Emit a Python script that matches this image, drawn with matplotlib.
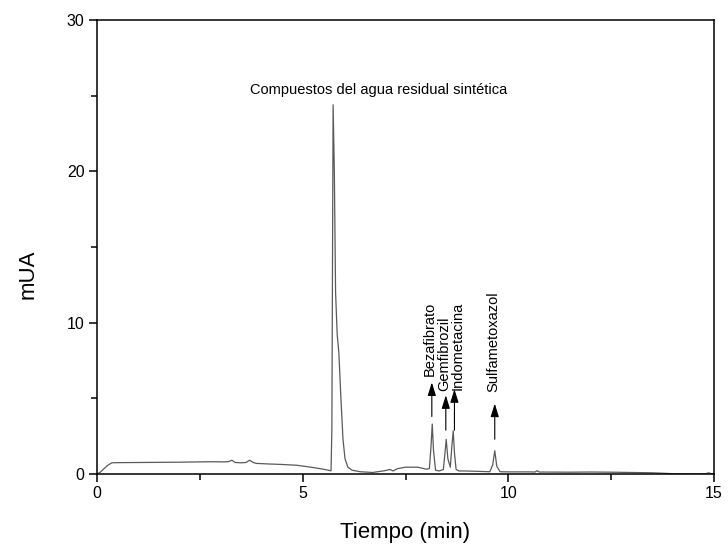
import matplotlib
matplotlib.use("Agg")
import matplotlib.pyplot as plt
from matplotlib.ticker import MultipleLocator

plt.rcParams['font.family'] = ['Liberation Sans', 'DejaVu Sans']

# Chromatogram trace: retention time (min) and detector signal (mUA)
tiempo = [0.00, 0.08, 0.15, 0.25, 0.36, 0.50, 1.00, 1.50, 2.00, 2.50, 2.80,
          3.10, 3.20, 3.28, 3.36, 3.50, 3.62, 3.71, 3.80, 3.87, 4.20, 4.50,
          4.85, 5.20, 5.50, 5.69, 5.71, 5.74, 5.77, 5.80, 5.84, 5.88, 5.93,
          5.98, 6.03, 6.10, 6.20, 6.40, 6.70, 7.00, 7.12, 7.20, 7.30, 7.50,
          7.80, 8.00, 8.08, 8.12, 8.15, 8.18, 8.23, 8.32, 8.42, 8.46, 8.49,
          8.53, 8.59, 8.62, 8.66, 8.69, 8.73, 8.80, 8.95, 9.20, 9.55, 9.62,
          9.67, 9.72, 9.80, 10.00, 10.50, 10.65, 10.70, 10.75, 11.50, 12.00,
          12.50, 13.00, 13.50, 14.00, 14.30, 14.60, 14.80, 14.87, 14.93, 15.00]
senal = [0.00, 0.12, 0.30, 0.55, 0.74, 0.75, 0.76, 0.77, 0.78, 0.80, 0.81,
         0.80, 0.82, 0.91, 0.76, 0.74, 0.76, 0.91, 0.76, 0.70, 0.66, 0.63,
         0.58, 0.45, 0.32, 0.21, 3.00, 24.40, 20.00, 12.00, 9.20, 8.00, 5.00,
         2.30, 1.00, 0.45, 0.25, 0.15, 0.10, 0.22, 0.30, 0.20, 0.35, 0.45,
         0.45, 0.32, 0.35, 1.80, 3.30, 1.60, 0.25, 0.20, 0.30, 1.40, 2.29,
         1.00, 0.45, 1.60, 2.86, 1.40, 0.30, 0.20, 0.20, 0.18, 0.15, 0.60,
         1.54, 0.50, 0.15, 0.14, 0.14, 0.13, 0.22, 0.13, 0.12, 0.13,
         0.12, 0.10, 0.08, 0.02, 0.01, 0.00, 0.02, 0.08, 0.02, 0.00]

# Identified compounds: name, arrow position (min), arrow tail/tip, label anchor
compuestos = ['Bezafibrato', 'Gemfibrozil', 'Indometacina', 'Sulfametoxazol']
flecha_x = [8.14, 8.48, 8.69, 9.67]
flecha_cola = [3.8, 2.9, 2.9, 2.3]
flecha_punta = [6.05, 5.2, 5.6, 4.65]
etiqueta_x = [8.09, 8.44, 8.77, 9.64]
etiqueta_y = [6.45, 5.5, 5.55, 5.4]

titulo_pico = 'Compuestos del agua residual sintética'

fig = plt.figure(figsize=(7.28, 5.45), dpi=100)
ax = fig.add_axes([97 / 728, 71 / 545, 617 / 728, 454 / 545])

ax.plot(tiempo, senal, color='#5a5a5a', lw=0.9)

ax.set_xlim(0, 15)
ax.set_ylim(0, 30)
ax.xaxis.set_major_locator(MultipleLocator(5))
ax.xaxis.set_minor_locator(MultipleLocator(2.5))
ax.yaxis.set_major_locator(MultipleLocator(10))
ax.yaxis.set_minor_locator(MultipleLocator(5))
ax.tick_params(which='major', direction='out', length=6, width=1.1,
               labelsize=11.5, pad=3, top=False, right=False)
ax.tick_params(which='minor', direction='out', length=4, width=1.1,
               top=False, right=False)
for s in ax.spines.values():
    s.set_linewidth(1.1)

ax.set_xlabel('Tiempo (min)', fontsize=16)
ax.set_ylabel('mUA', fontsize=16)
ax.xaxis.set_label_coords(0.5, -0.105)
ax.yaxis.set_label_coords(-0.094, 0.44)

ax.text(6.84, 25.4, titulo_pico, fontsize=10.5, ha='center', va='center')

for nombre, x, cola, punta, lx, ly in zip(compuestos, flecha_x, flecha_cola,
                                          flecha_punta, etiqueta_x, etiqueta_y):
    ax.annotate('', xy=(x, punta), xytext=(x, cola),
                arrowprops=dict(arrowstyle='-|>,head_length=0.8,head_width=0.25',
                                color='black', lw=0.8, shrinkA=0, shrinkB=0))
    ax.text(lx, ly, nombre, rotation=90, fontsize=10.5, ha='center', va='bottom')

fig.savefig('out.png', dpi=100)
